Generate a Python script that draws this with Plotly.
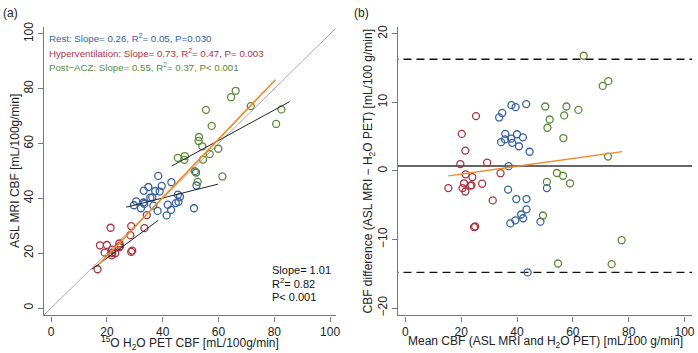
import plotly.graph_objects as go

# ---------------- data: panel (a) ----------------
rest_pet = [33.2, 34.85, 38.4, 30.5, 29.7, 33.1, 37.3, 33.4, 35.55, 39.65, 32.2, 36.25, 38.9,
            43.1, 36.65, 38.16, 41.8, 45.45, 46.2, 44.7, 45.65, 43.0, 41.4, 51.2, 51.95, 52.1]
rest_asl = [42.8, 44.15, 48.2, 38.9, 37.5, 38.5, 42.7, 38.0, 40.25, 44.55, 36.4, 40.35, 42.5,
            45.9, 37.35, 35.44, 37.7, 41.35, 40.6, 38.3, 38.75, 35.8, 33.8, 36.4, 49.45, 44.7]
hyper_pet = [21.3, 17.5, 20.0, 19.2, 28.7, 21.85, 24.45, 34.3, 16.65, 21.9, 21.75, 23.0,
             24.4, 24.75, 28.4, 33.45, 28.7, 29.05]
hyper_asl = [29.3, 22.9, 23.0, 20.2, 29.9, 21.35, 23.55, 33.9, 14.15, 20.1, 19.25, 20.0,
             22.2, 22.65, 26.6, 29.15, 20.5, 20.95]
acz_pet = [55.5, 64.5, 66.15, 45.4, 53.0, 57.55, 52.85, 47.95, 47.75, 54.2, 71.55, 54.45,
           56.85, 51.5, 59.9, 52.55, 82.55, 61.4, 80.65]
acz_asl = [72.3, 76.9, 79.25, 54.8, 62.4, 66.45, 60.95, 55.45, 54.05, 59.0, 73.65, 54.15,
           56.15, 49.9, 58.1, 46.05, 72.45, 48.0, 67.15]

# regression / identity line end points (x, y)
fit_all_x = [17.3, 80.4]
fit_all_y = [16.1, 83.3]
fit_rest_x = [26.9, 59.8]
fit_rest_y = [36.8, 45.2]
fit_hyper_x = [14.5, 38.4]
fit_hyper_y = [14.1, 32.0]
fit_acz_x = [43.2, 85.5]
fit_acz_y = [51.8, 75.3]
identity_xy = [-5, 110]

# ---------------- data: panel (b) ----------------
rest_mean = [38.0, 39.5, 43.3, 34.7, 33.6, 35.8, 40.0, 35.7, 37.9, 42.1, 34.3, 38.3, 40.7,
             44.5, 37.0, 36.8, 39.75, 43.4, 43.4, 41.5, 42.2, 39.4, 37.6, 43.8, 50.7, 48.4]
rest_diff = [9.6, 9.3, 9.75, 8.46, 7.8, 5.4, 5.35, 4.6, 4.7, 4.9, 4.2, 4.1, 3.6,
             2.8, 0.7, -2.72, -4.1, -4.1, -5.6, -6.35, -6.9, -7.2, -7.65, -14.8, -2.5, -7.4]
hyper_mean = [25.3, 20.2, 21.5, 19.7, 29.3, 21.6, 24.0, 34.1, 15.4, 21.0, 20.5, 21.5,
              23.3, 23.7, 27.5, 31.3, 24.6, 25.0]
hyper_diff = [8.0, 5.4, 2.97, 1.0, 1.2, -0.5, -0.9, -0.33, -2.5, -1.8, -2.5, -3.0,
              -2.15, -2.1, -1.86, -4.3, -8.2, -8.1]
acz_mean = [63.9, 70.7, 72.7, 50.1, 57.7, 62.0, 56.9, 51.7, 50.9, 56.6, 72.6, 54.3,
            56.5, 50.7, 59.0, 49.3, 77.5, 54.7, 73.9]
acz_diff = [16.8, 12.4, 13.1, 9.4, 9.4, 8.9, 8.1, 7.5, 6.3, 4.8, 2.1, -0.3,
            -0.7, -1.6, -1.8, -6.5, -10.1, -13.5, -13.6]

ba_mean_diff = 0.72
ba_upper = 16.3
ba_lower = -14.8
ba_fit_x = [15.4, 77.7]
ba_fit_y = [-0.72, 2.82]
ba_x_span = [-10, 110]

ticks_a = [0, 20, 40, 60, 80, 100]
ticks_b_y = [-20, -10, 0, 10, 20]

# ---------------- style ----------------
W, H = 698, 353
FONT = "Liberation Sans"
BLUE = "#36609d"
RED = "#a6343f"
GREEN = "#5a8a38"
ORANGE = "#f0892a"
AXC = "#777777"


def px(x, y):
    return x / W, 1 - y / H


def pts(x, y, color, xa, ya):
    return go.Scatter(x=x, y=y, mode="markers", xaxis=xa, yaxis=ya, showlegend=False,
                      marker=dict(symbol="circle-open", size=7, color=color,
                                  line=dict(width=1.3, color=color)))


def line(x, y, color, width, xa, ya, dash=None):
    return go.Scatter(x=x, y=y, mode="lines", xaxis=xa, yaxis=ya, showlegend=False,
                      line=dict(color=color, width=width, dash=dash))


fig = go.Figure()
# panel a
fig.add_trace(line(identity_xy, identity_xy, "#a8a8a8", 1, "x", "y"))
fig.add_trace(pts(rest_pet, rest_asl, BLUE, "x", "y"))
fig.add_trace(pts(hyper_pet, hyper_asl, RED, "x", "y"))
fig.add_trace(pts(acz_pet, acz_asl, GREEN, "x", "y"))
fig.add_trace(line(fit_rest_x, fit_rest_y, "#222222", 1, "x", "y"))
fig.add_trace(line(fit_hyper_x, fit_hyper_y, "#222222", 1, "x", "y"))
fig.add_trace(line(fit_acz_x, fit_acz_y, "#222222", 1, "x", "y"))
fig.add_trace(line(fit_all_x, fit_all_y, ORANGE, 1.6, "x", "y"))
# panel b
fig.add_trace(line(ba_x_span, [ba_mean_diff] * 2, "#666666", 2, "x2", "y2"))
fig.add_trace(line(ba_x_span, [ba_upper] * 2, "#111111", 1.4, "x2", "y2", dash="8px,5px"))
fig.add_trace(line(ba_x_span, [ba_lower] * 2, "#111111", 1.4, "x2", "y2", dash="8px,5px"))
fig.add_trace(pts(rest_mean, rest_diff, BLUE, "x2", "y2"))
fig.add_trace(pts(hyper_mean, hyper_diff, RED, "x2", "y2"))
fig.add_trace(pts(acz_mean, acz_diff, GREEN, "x2", "y2"))
fig.add_trace(line(ba_fit_x, ba_fit_y, ORANGE, 1.4, "x2", "y2"))

axis_common = dict(showline=True, linecolor=AXC, linewidth=1.4, showgrid=False, zeroline=False,
                   ticks="outside", ticklen=5, tickcolor=AXC, tickwidth=1,
                   tickfont=dict(family=FONT, size=12, color="#222222"), mirror=False)

ydom = [1 - 315.7 / H, 1 - 22.7 / H]
fig.update_layout(
    width=W, height=H, margin=dict(l=0, r=0, t=0, b=0),
    paper_bgcolor="white", plot_bgcolor="white",
    font=dict(family=FONT, size=12, color="#222222"),
    xaxis=dict(domain=[44.3 / W, 338 / W], range=[-2.56, 101.96], tickvals=ticks_a,
               anchor="y", **axis_common),
    yaxis=dict(domain=ydom, range=[-2.65, 102.4], tickvals=ticks_a, tickangle=-90,
               anchor="x", **axis_common),
    xaxis2=dict(domain=[400.7 / W, 697 / W], range=[-2.7, 102.7], tickvals=ticks_a,
                anchor="y2", **axis_common),
    yaxis2=dict(domain=ydom, range=[-21.06, 20.95], tickvals=ticks_b_y, tickangle=-90,
                anchor="x2", **axis_common),
)

ann = []


def text(x, y, s, color="#222222", size=12, xanchor="left", angle=0):
    ax, ay = px(x, y)
    ann.append(dict(x=ax, y=ay, xref="paper", yref="paper", text=s, showarrow=False,
                    xanchor=xanchor, yanchor="middle", textangle=angle,
                    font=dict(family=FONT, size=size, color=color)))


text(1, 8, "(a)", size=12)
text(355, 8, "(b)", size=12)
text(47, 33.5, "Rest: Slope= 0.26, R<sup>2</sup>= 0.05, P=0.030", BLUE, 9.7)
text(47, 48.5, "Hyperventilation: Slope= 0.73, R<sup>2</sup>= 0.47, P= 0.003", RED, 9.7)
text(47, 63.5, "Post\u2212ACZ: Slope= 0.55, R<sup>2</sup>= 0.37, P< 0.001", GREEN, 9.7)
text(272, 269.5, "Slope= 1.01", "#111111", 11)
text(272, 282.5, "R<sup>2</sup>= 0.82", "#111111", 11)
text(272, 297, "P< 0.001", "#111111", 11)
text(191, 344, "<sup>15</sup>O H<sub>2</sub>O PET CBF [mL/100g/min]", xanchor="center")
text(549, 343, "Mean CBF (ASL MRI and H<sub>2</sub>O PET) [mL/100 g/min]", xanchor="center")
text(15, 169, "ASL MRI CBF [mL/100g/min]", xanchor="center", angle=-90)
text(372, 169, "CBF difference (ASL MRI \u2212 H<sub>2</sub>O PET) [mL/100 g/min]",
     xanchor="center", angle=-90)
fig.update_layout(annotations=ann)

fig.write_html("out.html", config={"displayModeBar": False},
               post_script="document.body.style.margin='0';document.body.style.padding='0';")
